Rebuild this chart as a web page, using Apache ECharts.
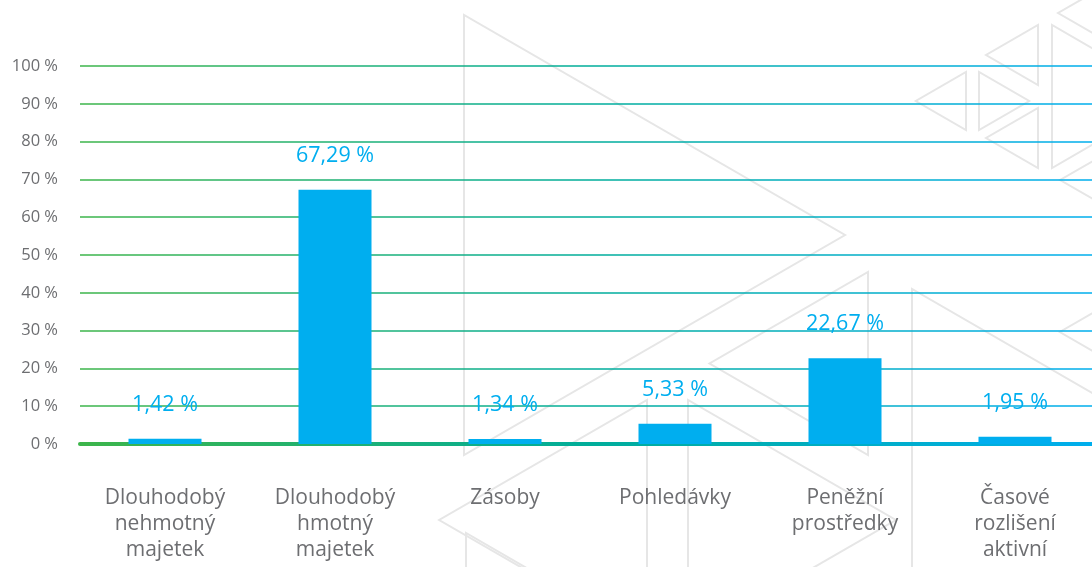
<!DOCTYPE html>
<html>
<head>
<meta charset="utf-8">
<script src="https://cdn.jsdelivr.net/npm/echarts@6/dist/echarts.min.js"></script>
<style>
  html, body { margin: 0; padding: 0; background: #fff; }
  #chart { width: 1092px; height: 567px; }
</style>
</head>
<body>
<div id="chart"></div>
<script>
const categories = [
  "Dlouhodobý\nnehmotný\nmajetek",
  "Dlouhodobý\nhmotný\nmajetek",
  "Zásoby",
  "Pohledávky",
  "Peněžní\nprostředky",
  "Časové\nrozlišení\naktivní",
];
const values = [1.42, 67.29, 1.34, 5.33, 22.67, 1.95];
const yTicks = [0, 10, 20, 30, 40, 50, 60, 70, 80, 90, 100];

const FONT = "'Open Sans', 'Noto Sans', sans-serif";
const GREEN = "#3db54a";
const BLUE = "#00aeef";

// background decoration: outlined equilateral triangles (x of vertical side, top, bottom, direction)
const deco = [
  [464, 15, 455, 1],
  [868, 272, 455, -1],
  [912, 289, 729, 1],
  [1233, 232, 432, -1],
  [966, 72, 130, -1],
  [979, 72, 130, 1],
  [1038, 25, 85, -1],
  [1038, 108, 168, -1],
  [1052, 25, 168, 1],
  [1162, -47, 73, -1],
  [1164, 120, 240, -1],
  [647, 400, 640, -1],
  [688, 400, 640, 1],
  [466, 533, 800, 1],
];

function lineGrad() {
  return new echarts.graphic.LinearGradient(0, 0, 1, 0, [
    { offset: 0, color: GREEN },
    { offset: 0.5, color: "#00ad9a" },
    { offset: 1, color: BLUE },
  ]);
}

const myChart = echarts.init(document.getElementById("chart"));

const option = {
  backgroundColor: "#fff",
  animation: false,
  graphic: deco.map((d) => {
    const h = d[2] - d[1];
    return {
      type: "polygon",
      z: -10,
      silent: true,
      shape: {
        points: [
          [d[0], d[1]],
          [d[0], d[2]],
          [d[0] + d[3] * 0.866 * h, (d[1] + d[2]) / 2],
        ],
      },
      style: { fill: "none", stroke: "#e6e6e6", lineWidth: 2 },
    };
  }),
  grid: { left: 80, top: 66, width: 1020, height: 378, outerBoundsMode: "none", containLabel: false },
  xAxis: {
    type: "category",
    data: categories,
    axisTick: { show: false },
    axisLine: { lineStyle: { color: lineGrad(), width: 4 } },
    axisLabel: {
      color: "#6d6e71",
      fontSize: 21,
      fontFamily: FONT,
      lineHeight: 26,
      margin: 41,
      verticalAlign: "top",
    },
  },
  yAxis: {
    type: "value",
    min: yTicks[0],
    max: yTicks[yTicks.length - 1],
    interval: 10,
    axisLine: { show: false },
    axisTick: { show: false },
    axisLabel: {
      formatter: "{value} %",
      color: "#6d6e71",
      fontSize: 16.5,
      fontFamily: FONT,
      margin: 22,
    },
    splitLine: { lineStyle: { color: lineGrad(), width: 1.5 } },
  },
  series: [
    {
      type: "bar",
      data: values,
      barWidth: 73,
      itemStyle: { color: BLUE },
      label: {
        show: true,
        position: "top",
        distance: 23,
        color: BLUE,
        fontSize: 21.5,
        fontFamily: FONT,
        formatter: (p) => p.value.toFixed(2).replace(".", ",") + " %",
      },
    },
  ],
};

myChart.setOption(option);
</script>
</body>
</html>
